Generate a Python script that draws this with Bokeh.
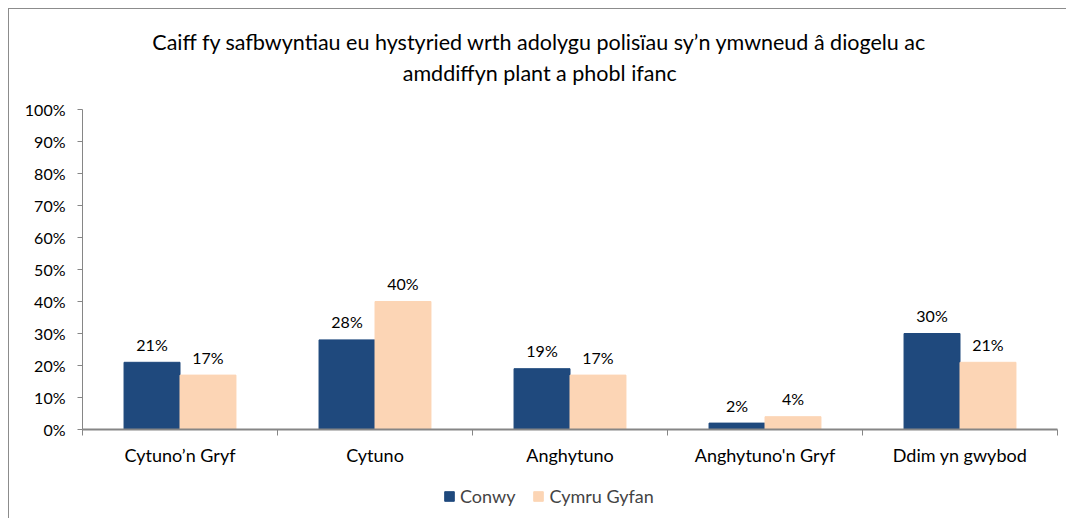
from bokeh.plotting import figure
from bokeh.models import (ColumnDataSource, Range1d, FixedTicker, Legend,
                          LegendItem, CustomJSTickFormatter, Label)
from bokeh.embed import file_html
from bokeh.resources import INLINE
from bokeh.core.properties import value

# ---- data ----
categories = ["Cytuno\u2019n Gryf", "Cytuno", "Anghytuno", "Anghytuno'n Gryf", "Ddim yn gwybod"]
conwy = [21, 28, 19, 2, 30]
cymru = [17, 40, 17, 4, 21]
series_names = ["Conwy", "Cymru Gyfan"]
title_lines = ["Caiff fy safbwyntiau eu hystyried wrth adolygu polis\u00efau sy\u2019n ymwneud  \u00e2 diogelu ac",
               "amddiffyn plant a phobl  ifanc"]
y_ticks = [0, 10, 20, 30, 40, 50, 60, 70, 80, 90, 100]

FONT = "Lato"
C1 = "#1F497D"
C2 = "#FCD5B5"
GRAY = "#868686"

# ---- layout (pixels) ----
W, H = 1058, 510
PLOT_L, PLOT_R = 73, 1048     # canvas x of data 0 and data n
PLOT_T, PLOT_B = 100, 420     # canvas y of 100% and 0%
n = len(categories)
ppx = (PLOT_R - PLOT_L) / n   # pixels per category
ppy = (PLOT_B - PLOT_T) / 100 # pixels per percent

def dx(px):
    return (px - PLOT_L) / ppx

def dy(py):
    return (PLOT_B - py) / ppy

bar_w = 0.287
centers = [i + 0.5 for i in range(n)]
x1 = [c - bar_w / 2 for c in centers]
x2 = [c + bar_w / 2 for c in centers]

src1 = ColumnDataSource(dict(x=x1, top=conwy, lab=[f"{v}%" for v in conwy]))
src2 = ColumnDataSource(dict(x=x2, top=cymru, lab=[f"{v}%" for v in cymru]))

p = figure(width=W, height=H, output_backend="svg", toolbar_location=None,
           x_range=Range1d(dx(0), dx(W)), y_range=Range1d(dy(H), dy(0)),
           min_border=0)
p.styles = {"margin-left": "8px", "margin-top": "8px",
            "border-left": "1px solid #8c8c8c", "border-top": "1px solid #8c8c8c"}
p.outline_line_color = None
p.grid.grid_line_color = None
p.background_fill_color = "#ffffff"

r1 = p.vbar(x="x", top="top", bottom=0, width=bar_w, source=src1, fill_color=C1, line_color=C1)
r2 = p.vbar(x="x", top="top", bottom=0, width=bar_w, source=src2, fill_color=C2, line_color=C2)

for s in (src1, src2):
    p.text(x="x", y="top", text="lab", source=s, text_align="center",
           text_baseline="alphabetic", y_offset=-18, text_font=value(FONT),
           text_font_size="16px", text_color="#000000")

# x axis
xa = p.xaxis[0]
xa.fixed_location = 0
xa.bounds = (0, n)
xa.ticker = FixedTicker(ticks=centers, minor_ticks=list(range(n + 1)))
xa.major_label_overrides = {c: lab for c, lab in zip(centers, categories)}
xa.major_tick_line_color = None
xa.major_tick_out = 0
xa.major_tick_in = 0
xa.minor_tick_line_color = GRAY
xa.minor_tick_out = 6
xa.minor_tick_in = 0
xa.axis_line_color = GRAY
xa.axis_line_width = 2
xa.major_label_standoff = 8
xa.major_label_text_font = FONT
xa.major_label_text_font_size = "18px"
xa.major_label_text_color = "#000000"

# y axis
ya = p.yaxis[0]
ya.fixed_location = 0
ya.bounds = (0, 100)
ya.ticker = FixedTicker(ticks=y_ticks)
ya.formatter = CustomJSTickFormatter(code="return tick + '%';")
ya.minor_tick_line_color = None
ya.major_tick_line_color = GRAY
ya.major_tick_out = 5
ya.major_tick_in = 0
ya.axis_line_color = GRAY
ya.major_label_standoff = 12
ya.major_label_text_font = FONT
ya.major_label_text_font_size = "16px"
ya.major_label_text_color = "#000000"

# title
for line, base in zip(title_lines, [32, 63]):
    p.add_layout(Label(x=dx(533), y=dy(base), text=line,
                       text_align="center", text_baseline="alphabetic",
                       text_font=FONT, text_font_size="21.5px", text_color="#000000"))

legend = Legend(items=[LegendItem(label=series_names[0], renderers=[r1]),
                       LegendItem(label=series_names[1], renderers=[r2])],
                orientation="horizontal", location=(434, 12),
                glyph_width=12, glyph_height=12, label_standoff=5, spacing=17,
                padding=0, margin=0, border_line_color=None, background_fill_alpha=0,
                label_text_font=FONT, label_text_font_size="18px", label_height=20)
p.add_layout(legend)

open("out.html", "w").write(file_html(p, INLINE))
